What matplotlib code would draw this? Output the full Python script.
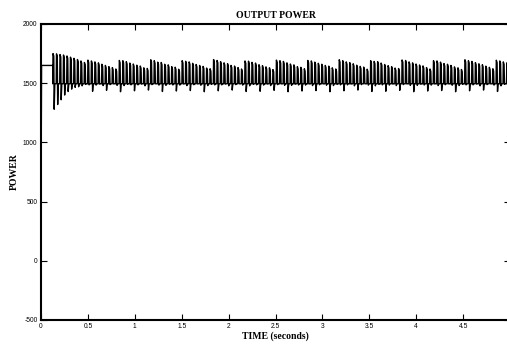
import numpy as np
import matplotlib
matplotlib.use("Agg")
import matplotlib.pyplot as plt

# ---- data ----
# start-up part: (time, power)
startup_t = [0.0, 0.002, 0.006, 0.12, 0.125]
startup_p = [260, 900, 1650, 1650, 1650]

# oscillation: one spike per entry, from t_osc_start to t_osc_end
t_osc_start = 0.125
t_osc_end = 5.0
baseline = 1495
peaks = [
    1750, 1748, 1742, 1738, 1730, 1720, 1710, 1700, 1688, 1675,
    1695, 1688, 1680, 1672, 1660, 1650, 1640, 1632, 1620,
    1692, 1690, 1682, 1670, 1662, 1652, 1645, 1630, 1625,
    1698, 1690, 1678, 1675, 1660, 1655, 1640, 1635, 1618,
    1690, 1685, 1680, 1668, 1658, 1650, 1642, 1628, 1622,
    1700, 1692, 1682, 1672, 1665, 1650, 1645, 1632, 1620,
    1688, 1686, 1676, 1670, 1656, 1648, 1638, 1630, 1615,
    1695, 1690, 1684, 1672, 1662, 1655, 1640, 1634, 1622,
    1692, 1688, 1678, 1668, 1660, 1650, 1644, 1630, 1620,
    1698, 1690, 1680, 1674, 1664, 1652, 1642, 1636, 1618,
    1690, 1684, 1682, 1670, 1658, 1648, 1640, 1628, 1624,
    1696, 1692, 1680, 1672, 1662, 1654, 1646, 1632, 1620,
    1690, 1688, 1678, 1666, 1660, 1650, 1638, 1630, 1616,
    1698, 1690, 1684, 1674, 1664, 1656, 1644, 1634, 1622,
    1694, 1688, 1680, 1672,
]
troughs = [
    1280, 1320, 1360, 1400, 1430, 1450, 1465, 1470,
    1478, 1490, 1486, 1432, 1484, 1492, 1480, 1440, 1488, 1494, 1482, 1428,
    1480, 1490, 1486, 1436, 1486, 1492, 1478, 1442, 1488, 1495, 1484, 1430,
    1482, 1491, 1485, 1434, 1484, 1493, 1480, 1438, 1487, 1494, 1483, 1428,
    1480, 1490, 1486, 1436, 1486, 1492, 1478, 1442, 1488, 1495, 1484, 1430,
    1478, 1490, 1486, 1432, 1484, 1492, 1480, 1440, 1488, 1494, 1482, 1428,
    1482, 1491, 1485, 1434, 1484, 1493, 1480, 1438, 1487, 1494, 1483, 1428,
    1480, 1490, 1486, 1436, 1486, 1492, 1478, 1442, 1488, 1495, 1484, 1430,
    1478, 1490, 1486, 1432, 1484, 1492, 1480, 1440, 1488, 1494, 1482, 1428,
    1482, 1491, 1485, 1434, 1484, 1493, 1480, 1438, 1487, 1494, 1483, 1428,
    1480, 1490, 1486, 1436, 1486, 1492, 1478, 1442, 1488, 1495, 1484, 1430,
    1478, 1490, 1486, 1432, 1484, 1492, 1480, 1440, 1488, 1494, 1482,
]
n = min(len(peaks), len(troughs))
peaks = peaks[:n]
troughs = troughs[:n]

xticks = [0, 0.5, 1, 1.5, 2, 2.5, 3, 3.5, 4, 4.5]
xtick_labels = ["0", "0.5", "1", "1.5", "2", "2.5", "3", "3.5", "4", "4.5"]
yticks = [-500, 0, 500, 1000, 1500, 2000]
ytick_labels = ["-500", "0", "500", "1000", "1500", "2000"]

# ---- build polyline: spike up, short hold, drop to trough, back to baseline ----
spike_t = np.linspace(t_osc_start, t_osc_end, n, endpoint=False)
dt = spike_t[1] - spike_t[0]
osc_t, osc_p = [], []
for t0, pk, tr in zip(spike_t, peaks, troughs):
    osc_t += [t0, t0 + 0.08 * dt, t0 + 0.3 * dt, t0 + 0.42 * dt, t0 + 0.6 * dt]
    osc_p += [baseline, pk, pk - 20, tr, baseline]
t_all = np.concatenate([startup_t, osc_t])
p_all = np.concatenate([startup_p, osc_p])

# ---- figure ----
W, H = 507, 351
fig = plt.figure(figsize=(W / 100, H / 100), dpi=100)
ax = fig.add_axes([41 / W, 1 - 320 / H, (510 - 41) / W, (320 - 24) / H])
ax.plot(t_all, p_all, color="black", lw=1.0)

ax.set_xlim(0, 5)
ax.set_ylim(-500, 2000)
ax.set_xticks(xticks)
ax.set_xticklabels(xtick_labels)
ax.set_yticks(yticks)
ax.set_yticklabels(ytick_labels)
ax.tick_params(direction="in", length=4.2, width=0.8, top=True, right=True,
               labelsize=4.8, pad=2.5)
for lab in ax.get_xticklabels() + ax.get_yticklabels():
    lab.set_family("Liberation Sans")
for sp in ax.spines.values():
    sp.set_linewidth(1.5)

ax.set_title("OUTPUT POWER", fontsize=7, fontweight="bold",
             family="Liberation Serif", pad=4)
ax.set_xlabel("TIME (seconds)", fontsize=7, fontweight="bold",
              family="Liberation Serif", labelpad=1)
fig.text(14 / W, 1 - 172 / H, "POWER", rotation=90, fontsize=7,
         fontweight="bold", family="Liberation Serif", ha="center", va="center")

fig.savefig("out.png", dpi=100, facecolor="white")
